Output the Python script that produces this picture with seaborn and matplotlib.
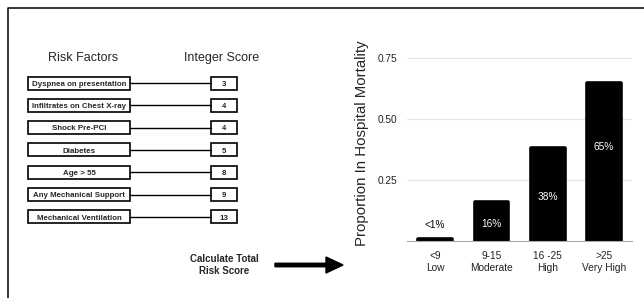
import matplotlib
matplotlib.use("Agg")
import matplotlib.pyplot as plt
import seaborn as sns
from matplotlib.patches import Rectangle, FancyArrow

# data
risk_factors = ["Dyspnea on presentation", "Infiltrates on Chest X-ray", "Shock Pre-PCI",
                "Diabetes", "Age > 55", "Any Mechanical Support", "Mechanical Ventilation"]
scores = [3, 4, 4, 5, 8, 9, 13]

groups = ["<9\nLow", "9-15\nModerate", "16 -25\nHigh", ">25\nVery High"]
mortality = [0.01, 0.16, 0.38, 0.65]
pct_labels = ["<1%", "16%", "38%", "65%"]
label_y = [0.065, 0.07, 0.18, 0.385]

sns.set_theme(style="white")
plt.rcParams["font.family"] = ["Liberation Sans", "DejaVu Sans"]

fig = plt.figure(figsize=(6.44, 2.98), dpi=100)

# overlay in pixel coordinates for the left diagram
ov = fig.add_axes([0, 0, 1, 1])
ov.set_xlim(0, 644)
ov.set_ylim(298, 0)
ov.axis("off")

# cropped frame (top + left)
ov.plot([8, 8, 644], [298, 8, 8], color="black", lw=1.1)

ov.text(83, 58, "Risk Factors", ha="center", va="center", fontsize=9)
ov.text(222, 58, "Integer Score", ha="center", va="center", fontsize=9)

row0, step = 83, 22.3
for i, (name, sc) in enumerate(zip(risk_factors, scores)):
    yc = row0 + i * step
    ov.add_patch(Rectangle((28, yc - 6.5), 102, 13, fill=False, ec="black", lw=1.2))
    ov.add_patch(Rectangle((211, yc - 6.5), 26, 13, fill=False, ec="black", lw=1.2))
    ov.plot([130, 211], [yc, yc], color="black", lw=1.0)
    ov.text(79, yc + 0.3, name, ha="center", va="center_baseline", fontsize=5.7, fontweight="bold")
    ov.text(224, yc + 0.3, str(sc), ha="center", va="center_baseline", fontsize=5.7, fontweight="bold")

ov.text(224, 265, "Calculate Total\nRisk Score", ha="center", va="center",
        fontsize=7, fontweight="bold", linespacing=1.35)
ov.add_patch(FancyArrow(275, 265, 68, 0, width=3.5, head_width=16, head_length=17,
                        length_includes_head=True, color="black"))

# bar chart
ax = fig.add_axes([407 / 644, 57 / 298, 225 / 644, 195 / 298])
sns.barplot(x=groups, y=mortality, color="black", width=0.6, ax=ax,
            edgecolor="black", linewidth=2.6)
for p in ax.patches:
    p.set_joinstyle("round")
ax.set_ylim(0, 0.8)
ax.set_yticks([0.25, 0.5, 0.75])
ax.set_yticklabels(["0.25", "0.50", "0.75"])
ax.yaxis.grid(True, color="#e3e3e3", lw=0.8)
ax.set_axisbelow(True)
for s in ["top", "right", "left"]:
    ax.spines[s].set_visible(False)
ax.spines["bottom"].set_color("#aaaaaa")
ax.spines["bottom"].set_linewidth(0.8)
ax.tick_params(axis="both", length=0, labelsize=7.3, colors="#222222", pad=7)
ax.tick_params(axis="y", pad=7)
for t in ax.get_xticklabels():
    t.set_linespacing(1.25)
ax.set_ylabel("Proportion In Hospital Mortality", fontsize=10.8, labelpad=6)
ax.set_xlabel("")

for i, (lab, yy) in enumerate(zip(pct_labels, label_y)):
    col = "black" if i == 0 else "white"
    ax.text(i, yy, lab, ha="center", va="center", fontsize=7.3, color=col)

fig.savefig("out.png", dpi=100)
